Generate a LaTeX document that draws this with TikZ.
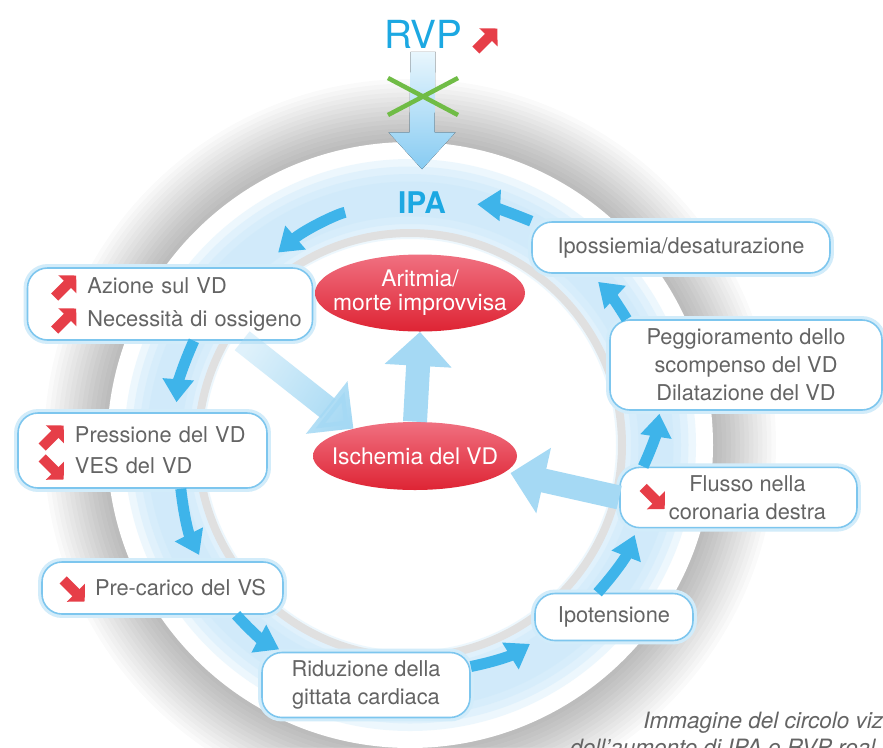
\documentclass[tikz,border=0pt]{standalone}
\usepackage{fontspec}
\setmainfont{TeX Gyre Heros}
\usetikzlibrary{arrows.meta,shapes.geometric,fadings}

\definecolor{boxline}{RGB}{125,198,238}
\definecolor{boxglow}{RGB}{210,236,250}
\definecolor{textgray}{RGB}{100,100,100}
\definecolor{flowblue}{RGB}{62,180,234}
\definecolor{paleblue}{RGB}{165,217,244}
\definecolor{rvptop}{RGB}{232,246,253}
\definecolor{rvparrow}{RGB}{135,203,242}
\definecolor{rvpblue}{RGB}{28,168,226}
\definecolor{markred}{RGB}{230,62,72}
\definecolor{crossgreen}{RGB}{112,188,70}
\definecolor{ovaltop}{RGB}{240,112,128}
\definecolor{ovalbottom}{RGB}{222,36,52}
\definecolor{bandblue}{RGB}{196,230,250}
\definecolor{ringgray}{RGB}{224,224,224}

\tikzfading[name=fadetail, top color=transparent!65, bottom color=transparent!0]

\tikzset{
  box/.style={rounded corners=0.4cm, draw=boxline, line width=0.9pt, fill=white,
    preaction={draw=boxglow, line width=4.5pt}, text=textgray, inner sep=0.16cm,
    font=\fontsize{12.4}{16}\selectfont, align=center},
  listbox/.style={box, align=left},
  oval/.style={ellipse, top color=ovaltop, bottom color=ovalbottom, text=white,
    inner xsep=-0.5cm, inner ysep=0pt, font=\fontsize{13}{13.6}\selectfont, align=center},
  flow/.style={draw=flowblue, line width=0.22cm, -{Triangle[width=0.6cm,length=0.46cm]}},
  bigflow/.style={draw=paleblue, line width=0.48cm, -{Triangle[width=1.3cm,length=0.68cm]}},
  upmark/.pic={\draw[markred, line width=0.2cm, -{Triangle[width=0.5cm,length=0.25cm]}]
    (-0.2,-0.2) -- (0.23,0.23);},
  downmark/.pic={\draw[markred, line width=0.2cm, -{Triangle[width=0.5cm,length=0.25cm]}]
    (-0.2,0.2) -- (0.23,-0.23);}
}

\begin{document}
\begin{tikzpicture}
		\useasboundingbox (0,0) rectangle (17.66,-14.94);
		\clip (0,0) rectangle (17.66,-14.94);
		\fill[white] (0,0) rectangle (17.66,-14.94);

		% disc with soft shadow and the ring
		\coordinate (ringc) at (8.20,-8.90);
		\foreach \k in {1,...,14}
			\fill[black, opacity=0.018] (ringc) circle [radius=6.06cm+0.09cm*\k];
		\fill[white] (ringc) circle [radius=6.06cm];
		\foreach \w in {1.6,1.3,1.0,0.7}
			\draw[bandblue, opacity=0.3, line width=\w cm] (ringc) circle [radius=4.92cm];
		\draw[ringgray, line width=0.16cm] (ringc) circle [radius=4.24cm];

		\draw (8.46,-0.68) node [text=rvpblue, font=\fontsize{22}{26}\selectfont, inner sep=2pt] (rvp) {RVP};
		\draw (8.44,-4.06) node [text=rvpblue, font=\fontsize{17}{20}\selectfont\bfseries, inner sep=2pt] (ipa) {IPA};

		\draw (3.40,-6.08) node [listbox, text width=5.38cm, minimum height=1.44cm] (azione)
			{\hspace*{1.04cm}Azione sul VD\\[2.8pt]\hspace*{1.04cm}Necessità di ossigeno};
		\draw (2.85,-9.01) node [listbox, text width=4.66cm, minimum height=1.50cm] (pressione)
			{\hspace*{0.98cm}Pressione del VD\\[1.6pt]\hspace*{0.98cm}VES del VD};
		\draw (3.25,-11.76) node [listbox, text width=4.50cm, minimum height=1.04cm] (precarico)
			{\hspace*{0.90cm}Pre-carico del VS};
		\draw (7.32,-13.70) node [box, minimum width=4.16cm, minimum height=1.30cm] (riduzione)
			{Riduzione della\\gittata cardiaca};
		\draw (12.28,-12.34) node [box, minimum width=3.16cm, minimum height=0.94cm] (ipotensione)
			{Ipotensione};
		\draw (14.77,-9.95) node [box, minimum width=4.74cm, minimum height=1.18cm] (flusso)
			{\hspace*{0.36cm}Flusso nella\\\hspace*{0.36cm}coronaria destra};
		\draw (14.92,-7.30) node [box, minimum width=5.44cm, minimum height=1.80cm] (peggioramento)
			{Peggioramento dello\\scompenso del VD\\Dilatazione del VD};
		\draw (13.62,-4.95) node [box, minimum width=5.96cm, minimum height=1.02cm] (ipossiemia)
			{Ipossiemia/desaturazione};

		\draw (8.40,-5.86) node [oval, minimum width=4.20cm, minimum height=1.54cm] (aritmia)
			{Aritmia/\\morte improvvisa};
		\draw (8.30,-9.12) node [oval, minimum width=4.08cm, minimum height=1.36cm] (ischemia)
			{Ischemia del VD};

		% inflow from RVP, fading in from the top
		\fill[top color=rvptop, bottom color=rvparrow]
			([xshift=-0.25cm]rvp.south) -- ([xshift=0.25cm]rvp.south)
			-- ([xshift=0.25cm, yshift=1.12cm]ipa.north) -- ([xshift=0.67cm, yshift=1.12cm]ipa.north)
			-- ([yshift=0.38cm]ipa.north)
			-- ([xshift=-0.67cm, yshift=1.12cm]ipa.north) -- ([xshift=-0.25cm, yshift=1.12cm]ipa.north)
			-- cycle;

		\draw
			(ipa.west) edge [flow, bend right=15, shorten <=1.0cm, shorten >=0.45cm] (azione.22)
			(ipossiemia.north west) edge [flow, bend right=10, shorten >=0.55cm] (ipa.east)
			(azione.-57) edge [flow, bend right=10, shorten >=0.2cm] (pressione.49)
			(pressione.-45) edge [flow, bend right=10, shorten >=0.14cm] (precarico.34)
			(precarico.-20) edge [flow, bend right=10, shorten >=0.1cm] (riduzione.158)
			(riduzione.10) edge [flow, bend right=10, shorten >=0.1cm] (ipotensione.south west)
			(ipotensione.124) edge [flow, bend right=10, shorten >=0.14cm] (flusso.197)
			(flusso.162) edge [flow, bend right=8, shorten >=0.06cm] (peggioramento.208)
			(peggioramento.159) edge [flow, bend right=8, shorten >=0.24cm] (ipossiemia.196)
			(azione.-27) edge [bigflow, path fading=fadetail, fading angle=61] (ischemia.156)
			(ischemia.north) edge [bigflow] (aritmia.south)
			(flusso.west) edge [bigflow, shorten >=0.1cm] (ischemia.-10)
		;

		% the blocked inflow
		\draw[crossgreen, line width=0.09cm] (7.76,-1.56) -- (9.16,-2.30) (7.76,-2.30) -- (9.16,-1.56);

		\pic at ([xshift=0.40cm, yshift=-0.12cm]rvp.east) {upmark};
		\pic at ([xshift=0.76cm, yshift=0.34cm]azione.west) {upmark};
		\pic at ([xshift=0.76cm, yshift=-0.32cm]azione.west) {upmark};
		\pic at ([xshift=0.70cm, yshift=0.27cm]pressione.west) {upmark};
		\pic at ([xshift=0.70cm, yshift=-0.35cm]pressione.west) {downmark};
		\pic at ([xshift=0.64cm, yshift=-0.04cm]precarico.west) {downmark};
		\pic at ([xshift=0.68cm]flusso.west) {downmark};

		\draw (12.86,-14.56) node [anchor=base west, inner sep=0pt, text=textgray,
			font=\fontsize{12.8}{15}\selectfont\itshape] (caption1) {Immagine del circolo viz};
		\draw (11.40,-15.10) node [anchor=base west, inner sep=0pt, text=textgray,
			font=\fontsize{12.8}{15}\selectfont\itshape] (caption2) {dell’aumento di IPA e RVP real};
	\end{tikzpicture}
\end{document}
